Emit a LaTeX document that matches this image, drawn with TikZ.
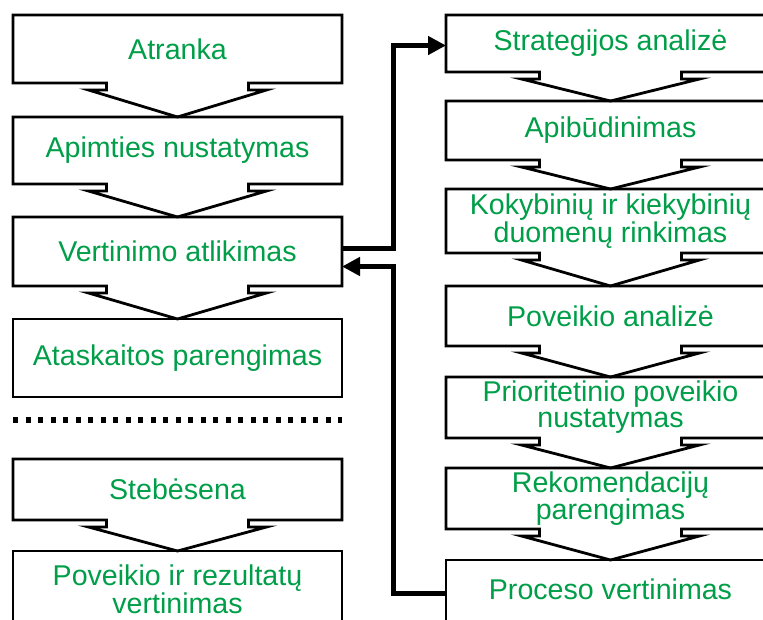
\documentclass[tikz,border=0pt]{standalone}
\usepackage{fontspec}
\setmainfont{Liberation Sans}
\usepackage{tikz}
\usetikzlibrary{arrows.meta,calc}
\definecolor{stepgreen}{RGB}{0,158,72}

\begin{document}
\begin{tikzpicture}[
    x=1pt, y=-1pt,
    box/.style={minimum width=329pt, inner sep=0pt, outer sep=0pt, align=center,
                text=stepgreen, font=\fontsize{28.6}{26}\selectfont},
    endbox/.style={box, draw, line width=2.8pt},
    outline/.style={line width=2.8pt, line join=miter},
    flow/.style={line width=5pt, -{Triangle[length=18pt,width=18pt]}},
    sepline/.style={line width=5.5pt, dash pattern=on 5pt off 7.5pt}
  ]
    \clip (0,0) rectangle (763,619);
    % left column
    \node[box, minimum height=68pt] (atr) at (177.5,49) {Atranka};
    \node[box, minimum height=67pt] (apim) at (177.5,150.5) {Apimties nustatymas};
    \node[box, minimum height=69pt] (vert) at (177.5,251.5) {Vertinimo atlikimas};
    \node[endbox, minimum height=78pt] (atask) at (177.5,358) {Ataskaitos parengimas};
    \node[box, minimum height=61pt] (steb) at (177.5,489.5) {Stebėsena};
    \node[box, minimum height=76pt] (povrez) at (177.5,589) {Poveikio ir rezultatų\\vertinimas};
    % right column
    \node[box, minimum height=57pt] (strat) at (610.5,43.5) {Strategijos analizė};
    \node[box, minimum height=59pt] (apib) at (610.5,130.5) {Apibūdinimas};
    \node[box, minimum height=64pt] (koky) at (610.5,221) {Kokybinių ir kiekybinių\\duomenų rinkimas};
    \node[box, minimum height=60pt] (povan) at (610.5,316) {Poveikio analizė};
    \node[box, minimum height=61pt] (prior) at (610.5,407.5) {Prioritetinio poveikio\\nustatymas};
    \node[box, minimum height=61pt] (rekom) at (610.5,498.5) {Rekomendacijų\\parengimas};
    \node[box, minimum height=58pt] (proc) at (610.5,589) {Proceso vertinimas};
    % boxes with block arrow into the next one
    \foreach \a/\b in {atr/apim, apim/vert, vert/atask, steb/povrez,
                       strat/apib, apib/koky, koky/povan, povan/prior, prior/rekom, rekom/proc}
      \draw[outline] ($(\a.south)+(-71,0)$) -- (\a.south west) -- (\a.north west)
        -- (\a.north east) -- (\a.south east) -- ($(\a.south)+(71,0)$) -- ++(0,7)
        -- ++(18,0) -- (\b.north) -- ($(\a.south)+(-89,7)$) -- ++(18,0) -- cycle;
    % last boxes run past the lower edge
    \foreach \n in {povrez, proc}
      \draw[outline] (\n.north west) rectangle ($(\n.south east)+(0,20)$);
    \draw[sepline] ($(atask.south west)+(0,23)$) -- ($(atask.south east)+(0,23)$);
    % feedback loop
    \draw[flow] ($(vert.east)+(0,-3)$) -- ++(51,0) |- ($(strat.west)+(0,2)$);
    \draw[flow] ($(proc.west)+(0,4)$) -- ++(-53,0) |- ($(vert.east)+(0,15)$);
\end{tikzpicture}
\end{document}
